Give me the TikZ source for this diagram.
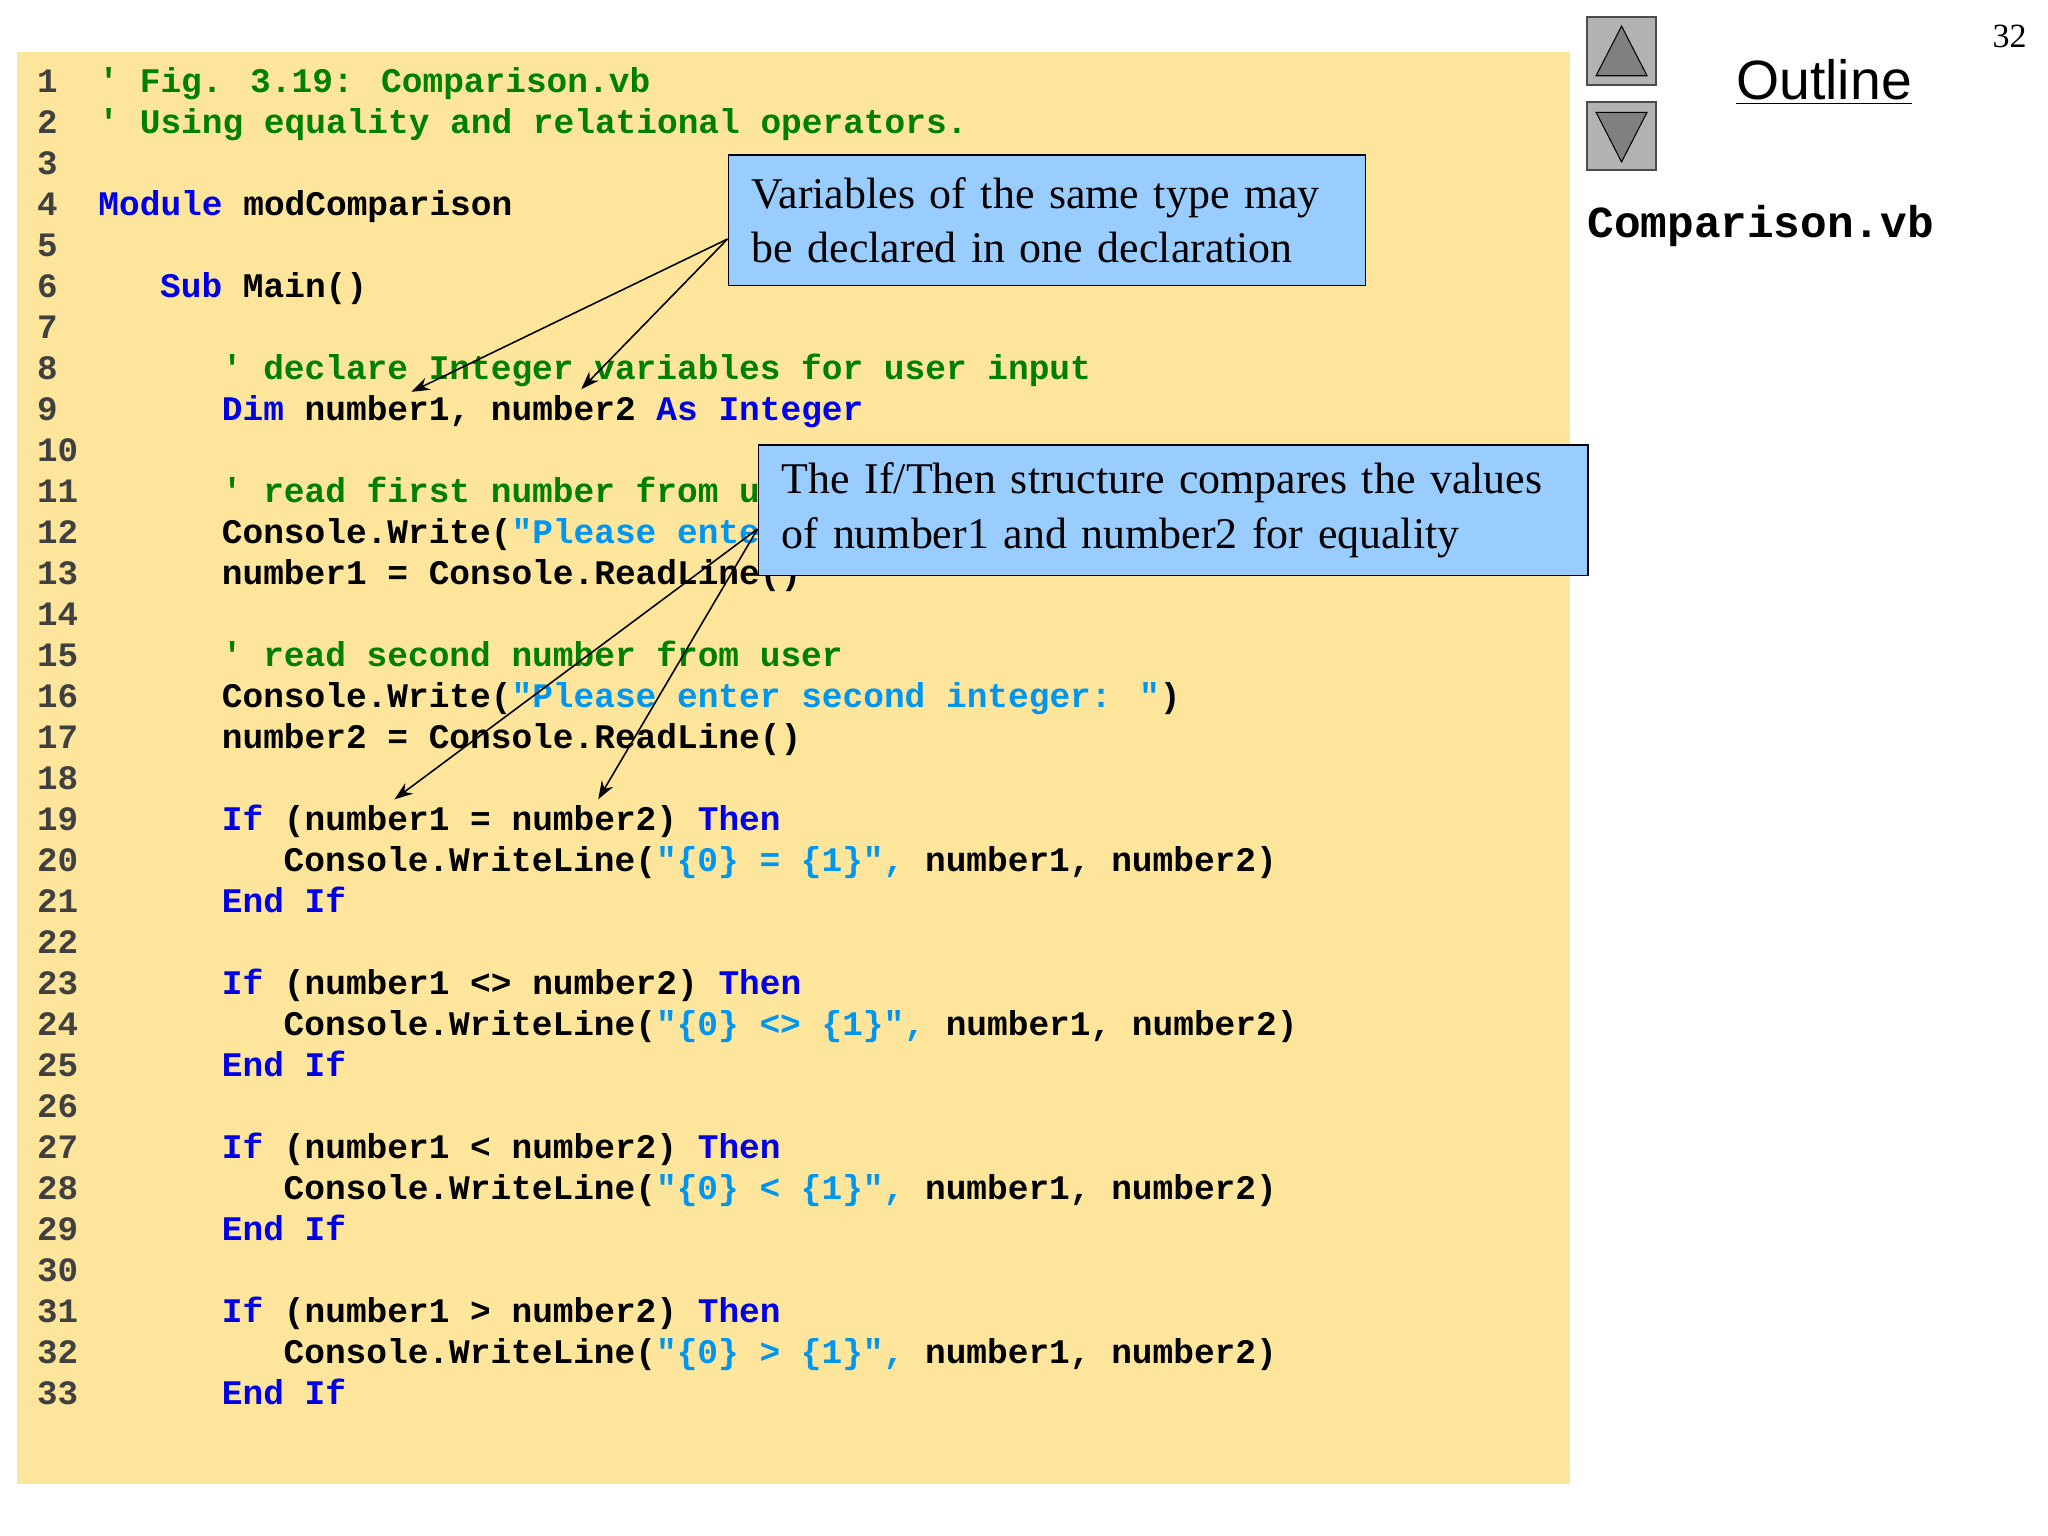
\documentclass[tikz,border=0pt]{standalone}
\usepackage{fontspec}
\setmainfont{Liberation Serif}
\newfontfamily\codefont{Liberation Mono}
\newfontfamily\sansf{Liberation Sans}
\usetikzlibrary{arrows.meta}
\definecolor{bgy}{RGB}{253,229,155}
\definecolor{kwc}{RGB}{0,0,230}
\definecolor{cmc}{RGB}{0,128,0}
\definecolor{stc}{RGB}{0,150,240}
\definecolor{callc}{RGB}{153,204,255}
\newcommand{\kw}[1]{\textcolor{kwc}{#1}}
\newcommand{\cm}[1]{\textcolor{cmc}{#1}}
\newcommand{\st}[1]{\textcolor{stc}{#1}}
\begin{document}
\begin{tikzpicture}[x=0.5pt,y=-0.5pt,
  code/.style={anchor=base west,inner sep=0,font=\codefont\bfseries\fontsize{13.2pt}{15pt}\selectfont},
  num/.style={anchor=base west,inner sep=0,text=black!75,font=\codefont\bfseries\fontsize{13.1pt}{15pt}\selectfont},
  callout/.style={draw=black,line width=0.6pt,fill=callc,anchor=north west,align=left,inner xsep=9pt,inner ysep=5pt,font=\fontsize{16.8pt}{21pt}\selectfont},
  arr/.style={-{Stealth[length=7pt,width=5pt]},line width=0.6pt},
  btn/.style={draw=black!70,fill=black!30,line width=0.8pt}]
\useasboundingbox (0,0) rectangle (1568,1176);
\fill[white] (0,0) rectangle (1568,1176);
\fill[bgy] (13,40) rectangle (1202,1136);
\foreach \i in {1,...,33}{\node[num] (n\i) at (28,{62+(\i-1)*31.375+9}) {\i};}
\def\L#1#2#3{\node[code] (l#1) at ({75+#2*15.75},{62+(#1-1)*31.375+9}) {#3};}
\L{1}{0}{\cm{' Fig. 3.19: Comparison.vb}}
\L{2}{0}{\cm{' Using equality and relational operators.}}
\L{4}{0}{\kw{Module} modComparison}
\L{6}{3}{\kw{Sub} Main()}
\L{8}{6}{\cm{' declare Integer variables for user input}}
\L{9}{6}{\kw{Dim} number1, number2 \kw{As} \kw{Integer}}
\L{11}{6}{\cm{' read first number from user}}
\L{12}{6}{Console.Write(\st{"Please enter first integer: "})}
\L{13}{6}{number1 = Console.ReadLine()}
\L{15}{6}{\cm{' read second number from user}}
\L{16}{6}{Console.Write(\st{"Please enter second integer: "})}
\L{17}{6}{number2 = Console.ReadLine()}
\L{19}{6}{\kw{If} (number1 = number2) \kw{Then}}
\L{20}{9}{Console.WriteLine(\st{"\{0\} = \{1\}",} number1, number2)}
\L{21}{6}{\kw{End} \kw{If}}
\L{23}{6}{\kw{If} (number1 <> number2) \kw{Then}}
\L{24}{9}{Console.WriteLine(\st{"\{0\} <> \{1\}",} number1, number2)}
\L{25}{6}{\kw{End} \kw{If}}
\L{27}{6}{\kw{If} (number1 < number2) \kw{Then}}
\L{28}{9}{Console.WriteLine(\st{"\{0\} < \{1\}",} number1, number2)}
\L{29}{6}{\kw{End} \kw{If}}
\L{31}{6}{\kw{If} (number1 > number2) \kw{Then}}
\L{32}{9}{Console.WriteLine(\st{"\{0\} > \{1\}",} number1, number2)}
\L{33}{6}{\kw{End} \kw{If}}
% callouts
\node[callout,text width=226pt,minimum height=50pt] (c1) at (557,118) {Variables of the same type may\\be declared in one declaration};
\node[callout,text width=299.5pt,minimum height=50pt] (c2) at (580,340) {The If/Then structure compares the values\\of number1 and number2 for equality};
\coordinate (a1) at (315,300); \coordinate (a2) at (445,298);
\coordinate (a3) at (302,612); \coordinate (a4) at (458,612);
\coordinate (s1) at (557,183); \coordinate (s2) at (580,405);
\draw[arr] (s1) -- (a1); \draw[arr] (s1) -- (a2);
\draw[arr] (s2) -- (a3); \draw[arr] (s2) -- (a4);
% right side
\draw[btn] (1215,13) rectangle (1268,65);
\draw[btn] (1215,78) rectangle (1268,130);
\fill[black!50,draw=black] (1222,58) -- (1241.5,20) -- (1261,58) -- cycle;
\fill[black!50,draw=black] (1222,86) -- (1241.5,124) -- (1261,86) -- cycle;
\node[anchor=base west,inner sep=0,font=\sansf\fontsize{21.2pt}{24pt}\selectfont] (out) at (1329,76) {\underline{Outline}};
\node[anchor=base west,inner sep=0,font=\codefont\bfseries\fontsize{17pt}{20pt}\selectfont] (fn) at (1215,182) {Comparison.vb};
\node[anchor=base east,inner sep=0,font=\fontsize{13pt}{15pt}\selectfont] (pg) at (1552,36) {32};
\end{tikzpicture}
\end{document}
